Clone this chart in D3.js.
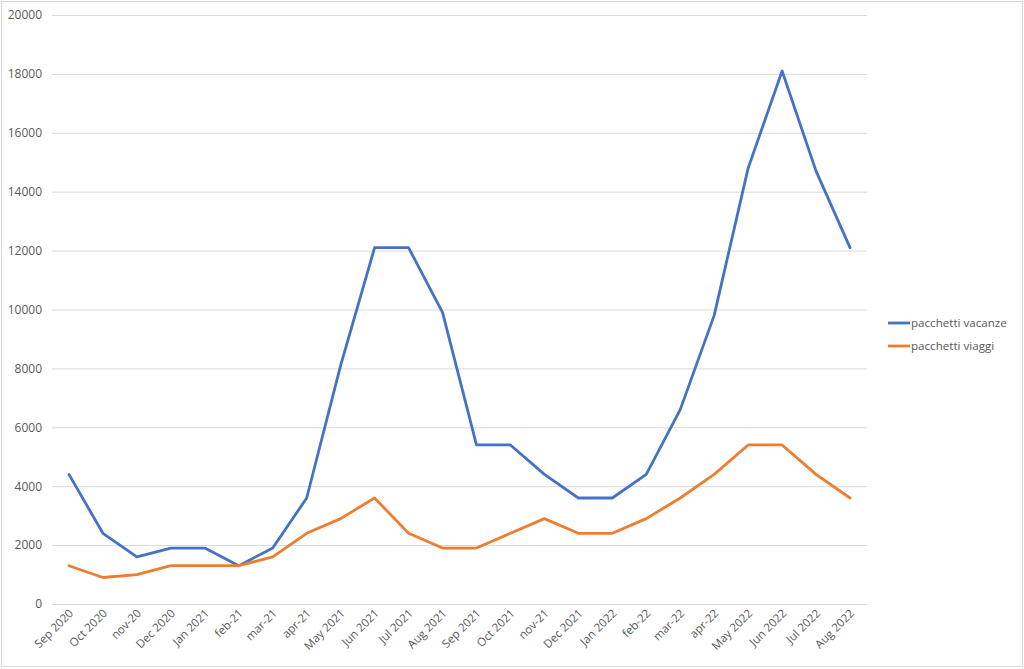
<!DOCTYPE html>
<html><head><meta charset="utf-8">
<script src="https://cdn.jsdelivr.net/npm/d3@7"></script>
<style>body{margin:0;background:#fff;}svg{display:block;font-family:"Open Sans","Liberation Sans",sans-serif;}</style>
</head><body><svg id="c" width="1024" height="669"></svg>
<script>
const categories = ["Sep 2020","Oct 2020","nov-20","Dec 2020","Jan 2021","feb-21","mar-21","apr-21","May 2021","Jun 2021","Jul 2021","Aug 2021","Sep 2021","Oct 2021","nov-21","Dec 2021","Jan 2022","feb-22","mar-22","apr-22","May 2022","Jun 2022","Jul 2022","Aug 2022"];
const vacanze = [4400,2400,1600,1900,1900,1300,1900,3600,8100,12100,12100,9900,5400,5400,4400,3600,3600,4400,6600,9800,14800,18100,14700,12100];
const viaggi = [1300,900,1000,1300,1300,1300,1600,2400,2900,3600,2400,1900,1900,2400,2900,2400,2400,2900,3600,4400,5400,5400,4400,3600];
const yTicks = [0,2000,4000,6000,8000,10000,12000,14000,16000,18000,20000];
const seriesNames = ["pacchetti vacanze","pacchetti viaggi"];
const colors = ["#4472c4","#ed7d31"];

const svg = d3.select("#c");
svg.append("rect").attr("x",1.5).attr("y",1.5).attr("width",1021).attr("height",665).attr("fill","#fff").attr("stroke","#d9d9d9");

const x = d3.scaleBand().domain(categories).range([52,867]);
const y = d3.scaleLinear().domain([0,20000]).range([604,15]);

const grid = svg.append("g");
grid.selectAll("line").data(yTicks).join("line")
  .attr("x1",52).attr("x2",867)
  .attr("y1",d=>y(d)+0.5).attr("y2",d=>y(d)+0.5)
  .attr("stroke","#d9d9d9").attr("stroke-width",1);

const yAxis = svg.append("g").attr("transform","translate(52,0)")
  .call(d3.axisLeft(y).tickValues(yTicks).tickSize(0).tickPadding(10).tickFormat(d3.format("d")));
yAxis.select(".domain").remove();
yAxis.selectAll("text").attr("fill","#595959").attr("font-size","12px").attr("font-family","'Open Sans','Liberation Sans',sans-serif");

const xg = svg.append("g");
xg.selectAll("text").data(categories).join("text")
  .attr("transform",d=>`translate(${x(d)+x.bandwidth()/2+5},614) rotate(-45)`)
  .attr("text-anchor","end").attr("fill","#595959").attr("font-size","11.5px")
  .text(d=>d);

const line = d3.line().x((d,i)=>x(categories[i])+x.bandwidth()/2).y(d=>y(d));
[vacanze,viaggi].forEach((s,i)=>{
  svg.append("path").datum(s).attr("d",line).attr("fill","none")
    .attr("stroke",colors[i]).attr("stroke-width",2.8).attr("stroke-linejoin","round").attr("stroke-linecap","round");
});

const lg = svg.append("g");
seriesNames.forEach((n,i)=>{
  const yy = 323 + i*23;
  lg.append("line").attr("x1",888).attr("x2",910).attr("y1",yy).attr("y2",yy).attr("stroke",colors[i]).attr("stroke-width",2.8);
  lg.append("text").attr("x",911).attr("y",yy+4).attr("fill","#595959").attr("font-size","11.6px").text(n);
});
</script></body></html>
